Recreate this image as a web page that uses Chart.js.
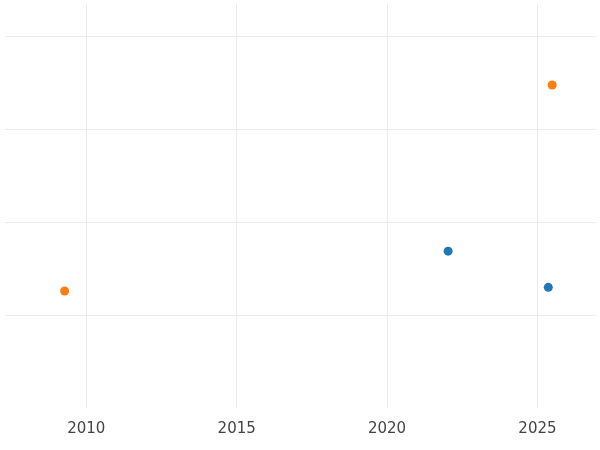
<!DOCTYPE html>
<html>
<head>
<meta charset="utf-8">
<script src="https://cdn.jsdelivr.net/npm/chart.js@4"></script>
<style>
  html, body { margin: 0; padding: 0; background: #fff; }
  #wrap { width: 600px; height: 450px; }
</style>
</head>
<body>
<div id="wrap"><canvas id="c"></canvas></div>
<script>
var orange_x = [2009.28, 2025.49];
var orange_y = [1.26, 3.48];
var blue_x = [2022.03, 2025.36];
var blue_y = [1.69, 1.30];
var x_ticks = [2010, 2015, 2020, 2025];

function to_points(xs, ys) {
  return xs.map(function(x, i) { return {x: x, y: ys[i]}; });
}

var ctx = document.getElementById('c');
new Chart(ctx, {
  type: 'scatter',
  data: {
    datasets: [
      {
        label: 'orange',
        data: to_points(orange_x, orange_y),
        backgroundColor: '#ff7f0e',
        borderWidth: 0,
        pointRadius: 4.5
      },
      {
        label: 'blue',
        data: to_points(blue_x, blue_y),
        backgroundColor: '#1f77b4',
        borderWidth: 0,
        pointRadius: 4.5
      }
    ]
  },
  options: {
    responsive: true,
    maintainAspectRatio: false,
    animation: false,
    layout: { padding: { left: -5, right: -5, top: -5, bottom: 0 } },
    plugins: { legend: { display: false }, tooltip: { enabled: false } },
    scales: {
      x: {
        type: 'linear',
        min: 2007.28,
        max: 2026.93,
        afterBuildTicks: function(axis) {
          axis.ticks = x_ticks.map(function(v) { return {value: v}; });
        },
        border: { display: false },
        grid: { color: '#ebebeb', lineWidth: 1, tickLength: 0, drawTicks: false },
        ticks: {
          color: '#444',
          padding: 12,
          font: { family: 'DejaVu Sans', size: 15 },
          callback: function(v) { return String(v); }
        }
      },
      y: {
        min: 0,
        max: 4.347,
        border: { display: false },
        grid: {
          drawTicks: false,
          color: function(c) {
            var v = c.tick ? c.tick.value : 0;
            return v > 0 && Math.abs(v - Math.round(v)) < 1e-6 ? '#ebebeb' : 'rgba(0,0,0,0)';
          }
        },
        ticks: { display: false, stepSize: 1 }
      }
    }
  }
});
</script>
</body>
</html>
